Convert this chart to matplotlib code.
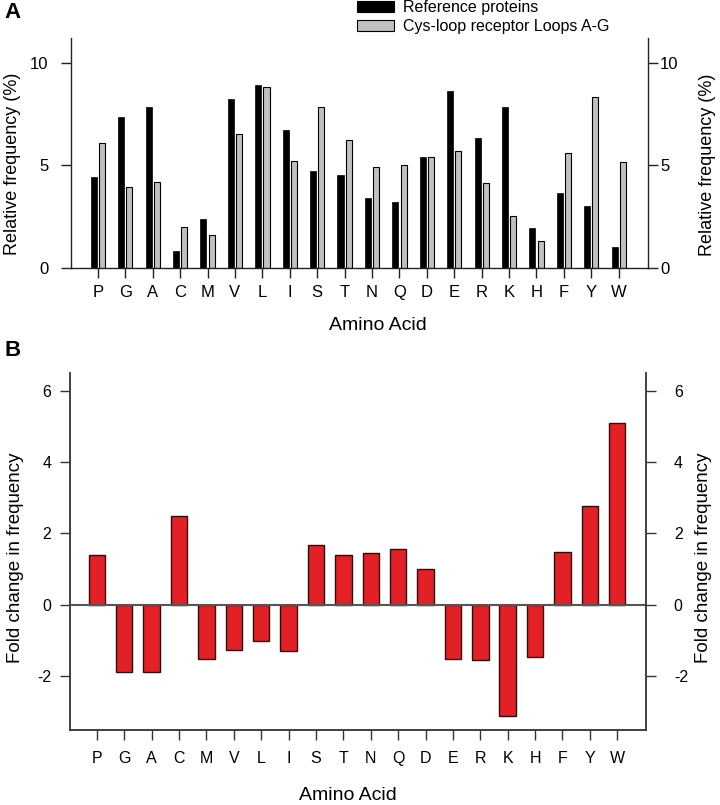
import matplotlib
matplotlib.use('Agg')
import matplotlib.pyplot as plt
import numpy as np
from matplotlib.patches import Patch

plt.rcParams['font.family'] = ['Liberation Sans', 'DejaVu Sans']
plt.rcParams['axes.unicode_minus'] = False

# ---------------- data ----------------
amino_acids = ['P', 'G', 'A', 'C', 'M', 'V', 'L', 'I', 'S', 'T',
               'N', 'Q', 'D', 'E', 'R', 'K', 'H', 'F', 'Y', 'W']
reference_freq = [4.42, 7.33, 7.83, 0.83, 2.41, 8.23, 8.93, 6.74, 4.72, 4.52,
                  3.42, 3.23, 5.41, 8.62, 6.34, 7.83, 1.93, 3.63, 3.03, 1.02]
loops_freq = [6.11, 3.92, 4.21, 2.01, 1.62, 6.52, 8.82, 5.22, 7.83, 6.22,
              4.93, 5.02, 5.41, 5.72, 4.12, 2.51, 1.33, 5.62, 8.33, 5.14]
fold_change = [1.40, -1.88, -1.87, 2.50, -1.50, -1.26, -1.00, -1.29, 1.67, 1.39,
               1.45, 1.56, 1.00, -1.52, -1.54, -3.12, -1.46, 1.47, 2.77, 5.10]
freq_ticks = [0, 5, 10]
fold_ticks = [-2, 0, 2, 4, 6]
legend_labels = ['Reference proteins', 'Cys-loop receptor Loops A-G']
xlabel_text = 'Amino Acid'
ylabel_a = 'Relative frequency (%)'
ylabel_b = 'Fold change in frequency'

# ---------------- layout helpers ----------------
W, H = 720, 805
fig = plt.figure(figsize=(W / 100, H / 100), dpi=100)


def fx(px):
    return px / W


def fy(py):
    return 1 - py / H


x = np.arange(len(amino_acids))
BLACK = '#000000'
GRAY = '#c0c0c0'
RED = '#e22025'
SPINE = '#222222'

# ================= Panel A =================
axA = fig.add_axes([fx(70.5), fy(268), (647.5 - 70.5) / W, (268 - 38) / H])
barsA1 = axA.bar(x - 0.15, reference_freq, width=0.22, color=BLACK,
                 edgecolor=BLACK, linewidth=0.5)
barsA2 = axA.bar(x + 0.15, loops_freq, width=0.22, color=GRAY,
                 edgecolor=BLACK, linewidth=0.8)
axA.set_xlim(-1, 20.05)
axA.set_ylim(0, 11.2)
axA.set_xticks(x)
axA.set_xticklabels(amino_acids)
axA.set_yticks(freq_ticks)
axA.spines['top'].set_visible(False)
axA.spines['right'].set_visible(False)
for s in ['left', 'bottom']:
    axA.spines[s].set_linewidth(1.0)
    axA.spines[s].set_color(SPINE)
axA.tick_params(axis='x', direction='out', length=7, width=1, pad=5,
                labelsize=12, colors=SPINE, labelcolor='black')
axA.tick_params(axis='y', direction='out', length=7, width=1, pad=9,
                labelsize=12, colors=SPINE, labelcolor='black')
axA.set_ylabel(ylabel_a, fontsize=13)
axA.yaxis.label.set_va('center')
axA.yaxis.set_label_coords(fx(13), fy(164), transform=fig.transFigure)
axA.set_xlabel(xlabel_text, fontsize=14)
axA.xaxis.label.set_va('center')
axA.xaxis.set_label_coords(fx(378), fy(325.5), transform=fig.transFigure)

axA2 = axA.twinx()
axA2.set_ylim(axA.get_ylim())
axA2.set_yticks(freq_ticks)
for s in ['top', 'left', 'bottom']:
    axA2.spines[s].set_visible(False)
axA2.spines['right'].set_linewidth(1.0)
axA2.spines['right'].set_color(SPINE)
axA2.tick_params(axis='y', direction='out', length=7, width=1, pad=2,
                 labelsize=12, colors=SPINE, labelcolor='black')
axA2.set_ylabel(ylabel_a, fontsize=13)
axA2.yaxis.label.set_va('center')
axA2.yaxis.set_label_coords(fx(707), fy(165), transform=fig.transFigure)

fig.legend(handles=[Patch(facecolor=BLACK, edgecolor=BLACK, linewidth=0.8),
                    Patch(facecolor=GRAY, edgecolor=BLACK, linewidth=0.8)],
           labels=legend_labels, loc='upper left',
           bbox_to_anchor=(fx(357), fy(0)), frameon=False, borderpad=0,
           borderaxespad=0, handlelength=2.3, handleheight=0.75,
           handletextpad=0.6, labelspacing=0.25, fontsize=11.5)

fig.text(fx(4), fy(2), 'A', fontsize=16, fontweight='bold', ha='left', va='top')

# ================= Panel B =================
axB = fig.add_axes([fx(69.5), fy(730), (646 - 69.5) / W, (730 - 372.7) / H])
axB.bar(x, fold_change, width=0.6, color=RED, edgecolor='#2a0e0e',
        linewidth=1.0, zorder=2)
axB.axhline(0, color='#555555', linewidth=1.5, zorder=3)
axB.set_xlim(-1, 20.05)
axB.set_ylim(-3.5, 6.5)
axB.set_xticks(x)
axB.set_xticklabels(amino_acids)
axB.set_yticks(fold_ticks)
axB.spines['top'].set_visible(False)
axB.spines['right'].set_visible(False)
for s in ['left', 'bottom']:
    axB.spines[s].set_linewidth(1.3)
    axB.spines[s].set_color('#333333')
axB.tick_params(axis='x', direction='out', length=7, width=1, pad=8,
                labelsize=11.5, colors='#333333', labelcolor='black')
axB.tick_params(axis='y', direction='out', length=7, width=1, pad=6,
                labelsize=11.5, colors='#333333', labelcolor='black')
axB.set_ylabel(ylabel_b, fontsize=13.5)
axB.yaxis.label.set_va('center')
axB.yaxis.set_label_coords(fx(16), fy(558), transform=fig.transFigure)
axB.set_xlabel(xlabel_text, fontsize=14)
axB.xaxis.label.set_va('center')
axB.xaxis.set_label_coords(fx(348), fy(795.5), transform=fig.transFigure)

axB2 = axB.twinx()
axB2.set_ylim(axB.get_ylim())
axB2.set_yticks(fold_ticks)
for s in ['top', 'left', 'bottom']:
    axB2.spines[s].set_visible(False)
axB2.spines['right'].set_linewidth(1.3)
axB2.spines['right'].set_color('#333333')
axB2.tick_params(axis='y', direction='out', length=7, width=1, pad=13,
                 labelsize=11.5, colors='#333333', labelcolor='black')
axB2.set_ylabel(ylabel_b, fontsize=13.5)
axB2.yaxis.label.set_va('center')
axB2.yaxis.set_label_coords(fx(703.5), fy(557.5), transform=fig.transFigure)

fig.text(fx(5), fy(340), 'B', fontsize=16, fontweight='bold', ha='left', va='top')

fig.savefig('out.png', dpi=100)
